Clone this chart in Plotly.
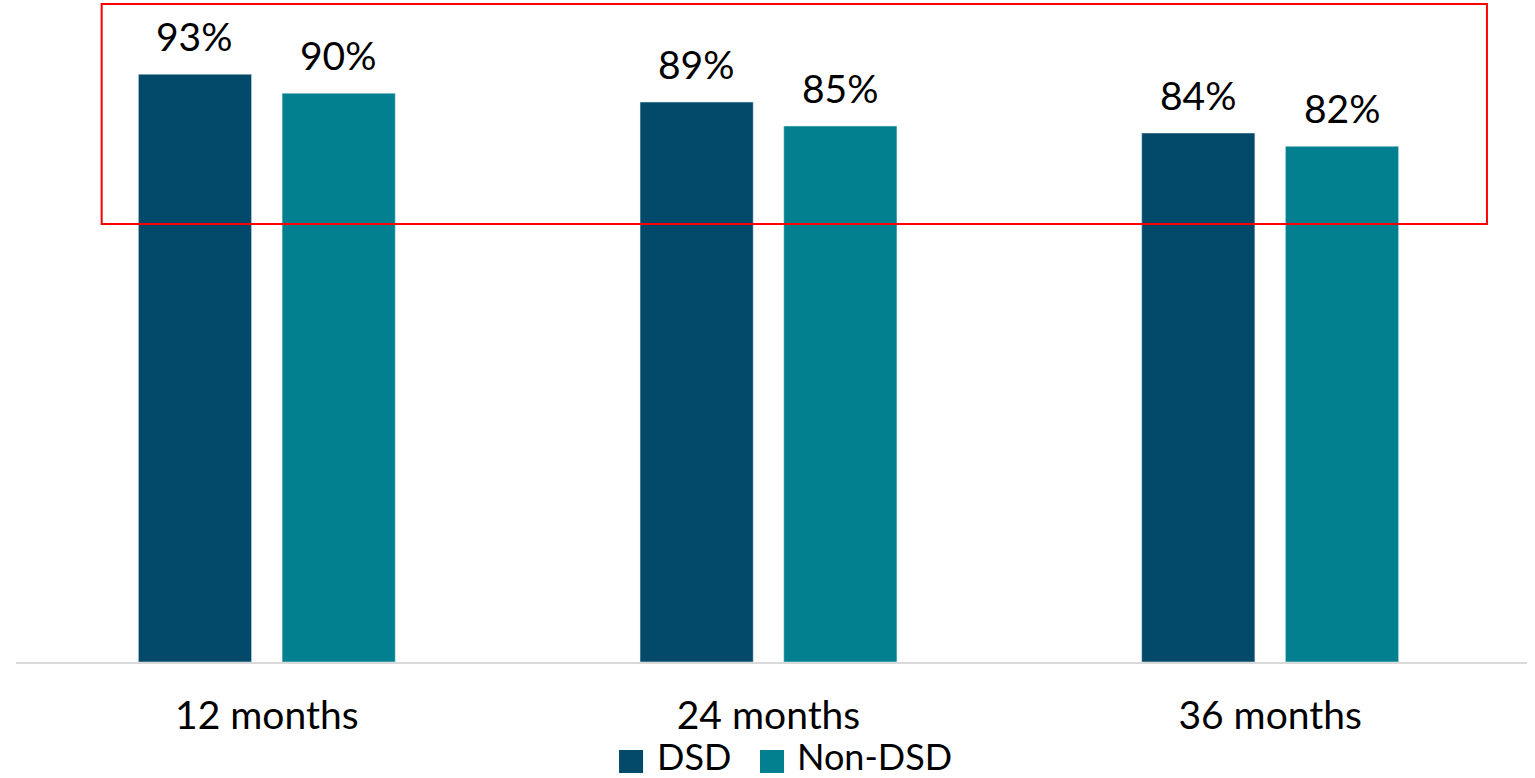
import plotly.graph_objects as go

categories = ["12 months", "24 months", "36 months"]
dsd = [93.0, 88.6, 83.7]
non_dsd = [90.0, 84.8, 81.6]
dsd_labels = ["93%", "89%", "84%"]
non_dsd_labels = ["90%", "85%", "82%"]
series_names = ["DSD", "Non-DSD"]
series_colors = ["#02496A", "#02808F"]

FONT = "Lato, 'Open Sans', sans-serif"
FS = 39

fig = go.Figure()
fig.add_trace(go.Bar(name=series_names[0], x=categories, y=dsd,
                     marker_color=series_colors[0], showlegend=False))
fig.add_trace(go.Bar(name=series_names[1], x=categories, y=non_dsd,
                     marker_color=series_colors[1], showlegend=False))

# data labels
for vals, labels, shift in [(dsd, dsd_labels, -72), (non_dsd, non_dsd_labels, 72)]:
    for c, v, t in zip(categories, vals, labels):
        fig.add_annotation(x=c, y=v, text=t, showarrow=False, xshift=shift,
                           yanchor="bottom", yshift=13,
                           font=dict(size=FS, color="black", family=FONT))

fig.update_layout(
    width=1535, height=778,
    margin=dict(l=16, r=8, t=30, b=116, autoexpand=False),
    plot_bgcolor="white", paper_bgcolor="white",
    barmode="group", bargap=0.427, bargroupgap=0.2125,
    font=dict(family=FONT, size=FS, color="black"),
    showlegend=False,
    xaxis=dict(showline=True, linecolor="#D9D9D9", linewidth=2, ticks="",
               range=[-0.5, 2.512],
               tickfont=dict(size=FS, family=FONT), ticklabelstandoff=18),
    yaxis=dict(range=[0, 100], visible=False, showgrid=False),
)

# legend (drawn manually to match large square keys)
leg = [(0.3991, 0.4150, 0.4229), (0.4924, 0.5083, 0.5156)]
for (x0, x1, xt), name, col in zip(leg, series_names, series_colors):
    fig.add_shape(type="rect", xref="paper", yref="paper",
                  x0=x0, x1=x1, y0=-0.1756, y1=-0.1392,
                  line=dict(width=0), fillcolor=col)
    fig.add_annotation(xref="paper", yref="paper", x=xt, y=-0.1487,
                       xanchor="left", yanchor="middle", text=name,
                       showarrow=False, font=dict(size=36, family=FONT, color="black"))

fig.add_shape(type="rect", xref="paper", yref="paper",
              x0=0.0567, x1=0.9735, y0=0.693, y1=1.041,
              line=dict(color="red", width=2), fillcolor="rgba(0,0,0,0)")

fig.write_html("out.html")
